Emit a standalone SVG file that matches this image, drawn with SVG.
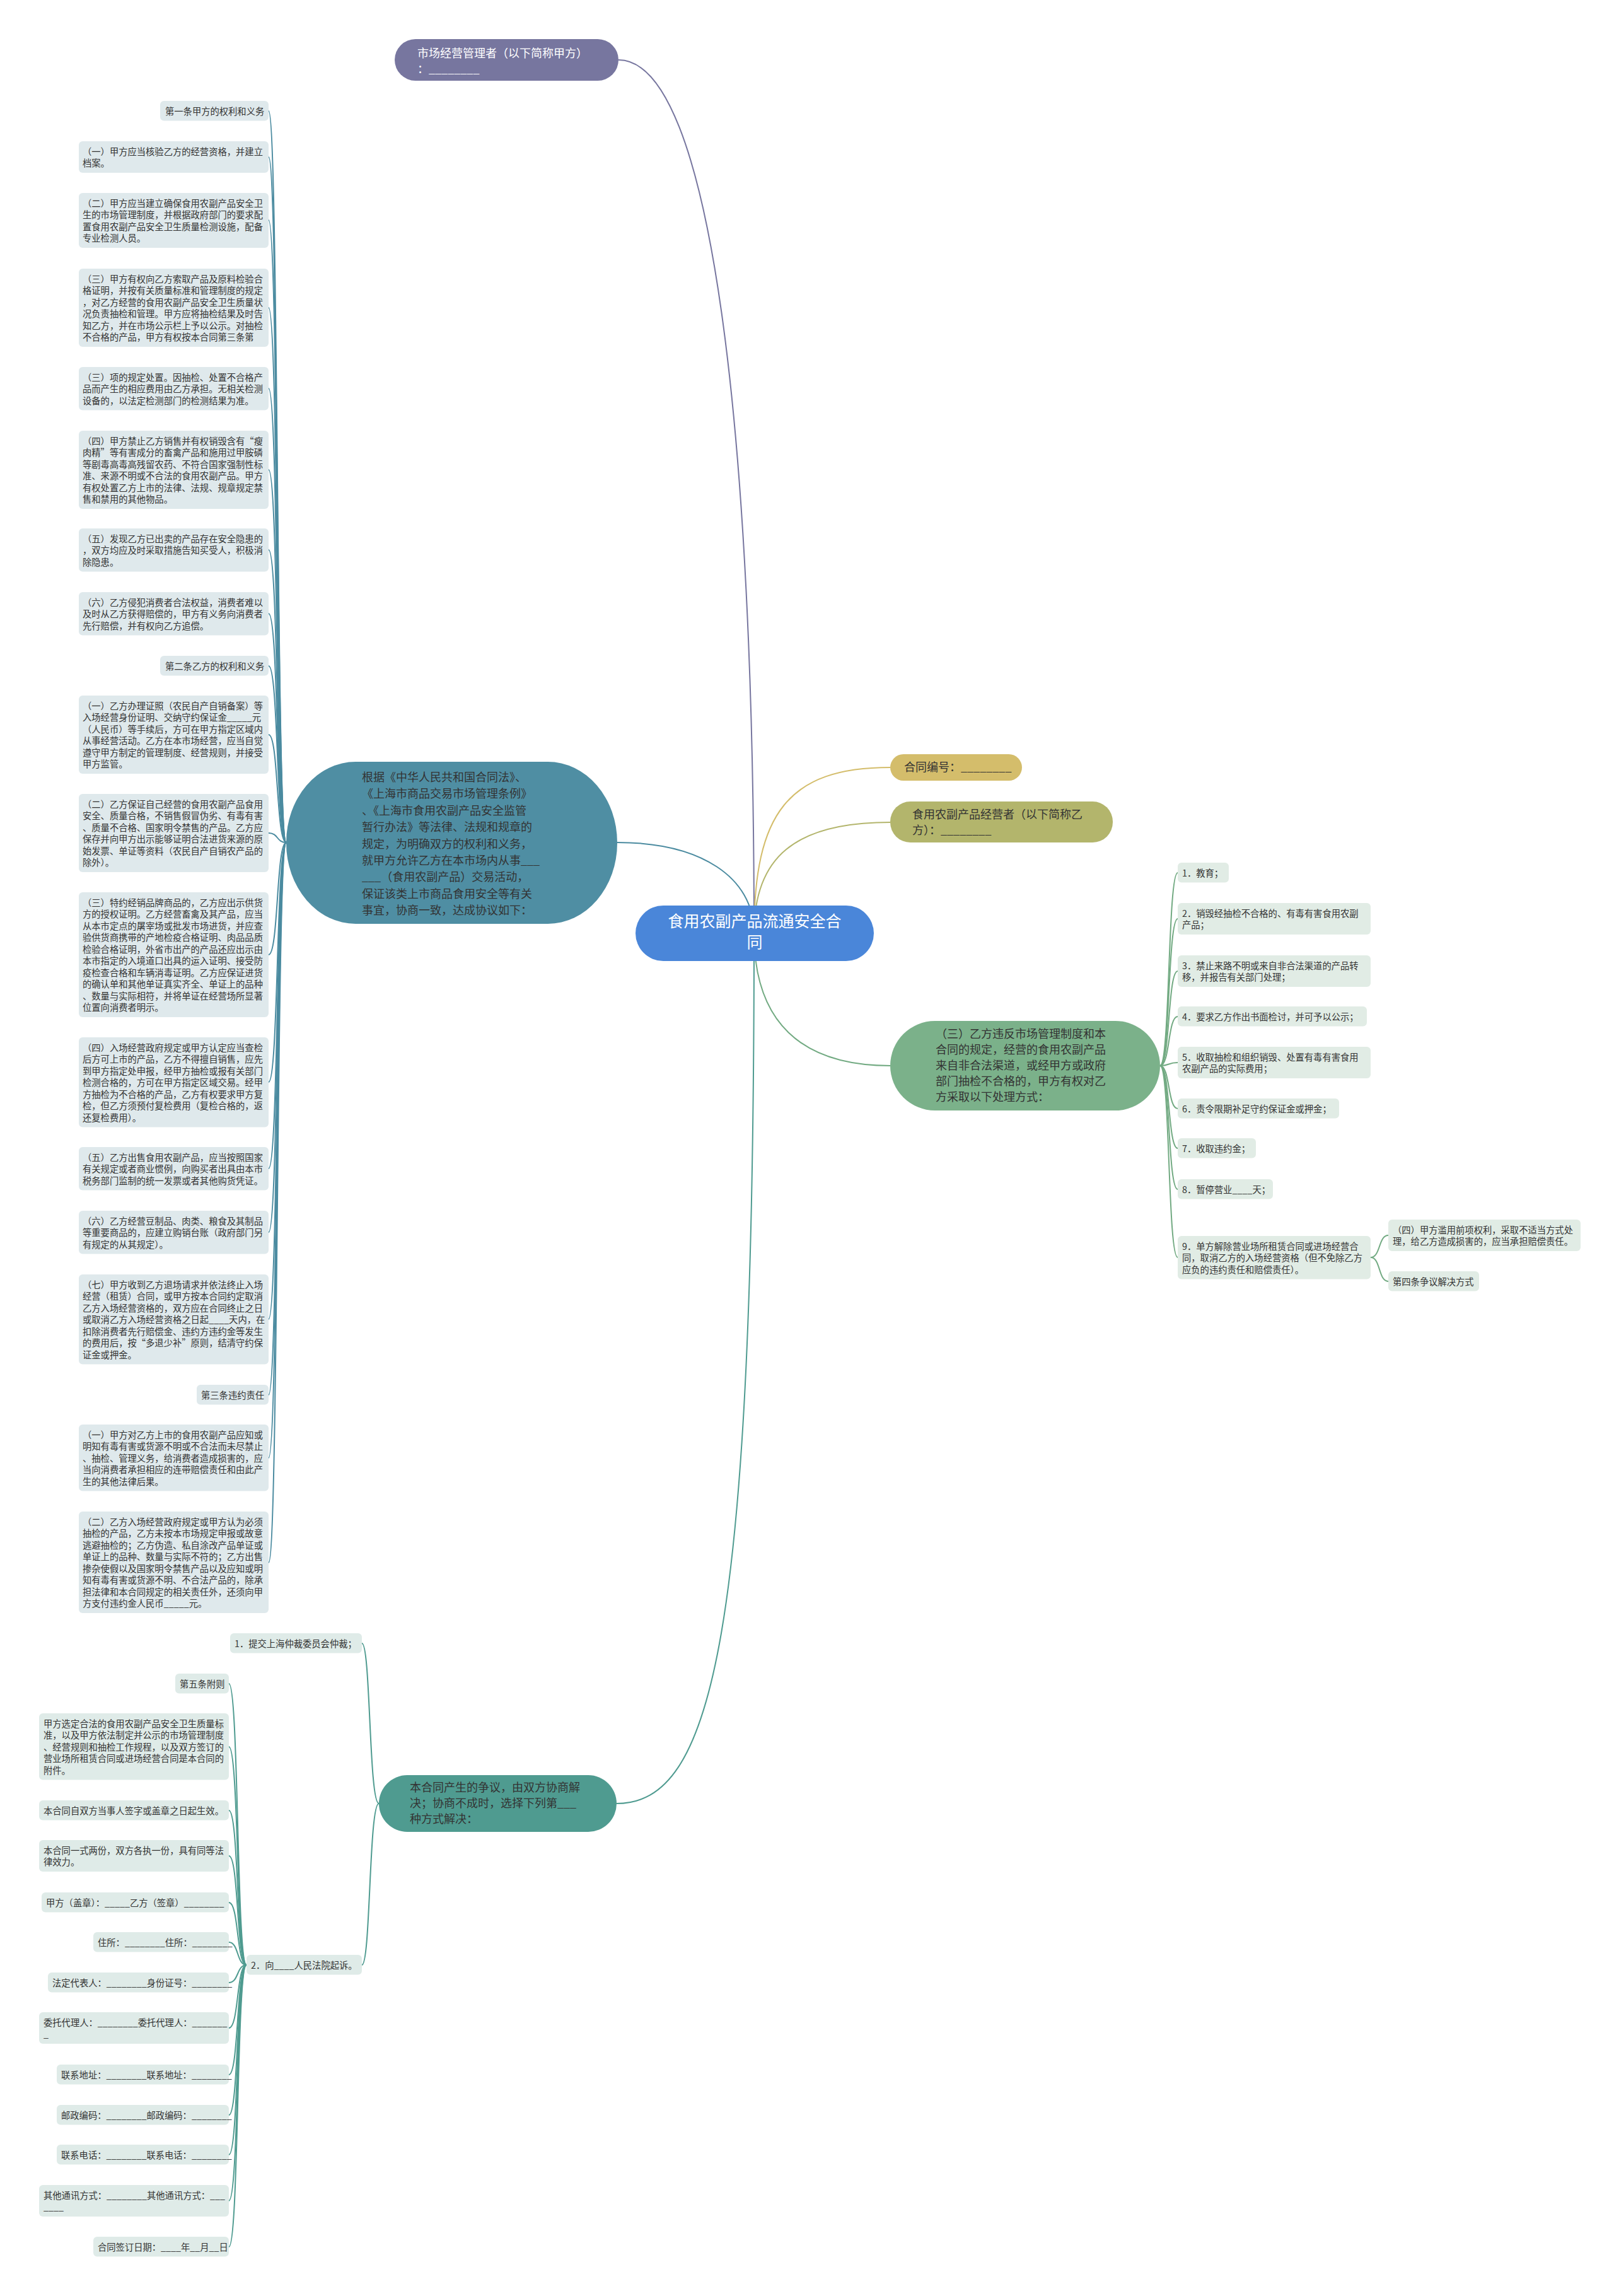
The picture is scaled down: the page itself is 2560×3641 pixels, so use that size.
<svg xmlns="http://www.w3.org/2000/svg" width="2560" height="3641" viewBox="0 0 2560 3641">
<style>
text{font-family:"Noto Sans CJK SC","Noto Sans",sans-serif;fill:#333}
.lf{font-size:14.3px}
.md{font-size:18px}
.wt{fill:#fff}
.rt{font-size:25px;fill:#fff}
.bl{fill:#dfe9ec}
.bg{fill:#e1ece5}
.bb{fill:#dfebe8}
.c{fill:none;stroke-width:2}
.cl{stroke:#4b8ba0}
.cg{stroke:#72aa82}
.cb{stroke:#4f9b90}
</style>
<rect width="2560" height="3641" fill="#fff"/>
<g id="connectors">
<path class="c" stroke="#77769f" d="M1196 1480 C1196 700,1130 95,981 95"/>
<path class="c cl" d="M1196 1480 C1196 1390,1110 1336,979 1336"/>
<path class="c" stroke="#d4bd6b" d="M1196 1480 C1196 1290,1250 1217,1412 1217"/>
<path class="c" stroke="#b3b56c" d="M1196 1480 C1196 1360,1260 1304,1412 1304"/>
<path class="c cg" d="M1196 1480 C1196 1620,1270 1690,1412 1690"/>
<path class="c cb" d="M1196 1480 C1196 2600,1130 2860,978 2860"/>
<path class="c cl" d="M454 1336 C438 1336,442 176,426 176"/>
<path class="c cl" d="M454 1336 C438 1336,442 249,426 249"/>
<path class="c cl" d="M454 1336 C438 1336,442 349,426 349"/>
<path class="c cl" d="M454 1336 C438 1336,442 488,426 488"/>
<path class="c cl" d="M454 1336 C438 1336,442 616,426 616"/>
<path class="c cl" d="M454 1336 C438 1336,442 745,426 745"/>
<path class="c cl" d="M454 1336 C438 1336,442 872,426 872"/>
<path class="c cl" d="M454 1336 C438 1336,442 973,426 973"/>
<path class="c cl" d="M454 1336 C438 1336,442 1056,426 1056"/>
<path class="c cl" d="M454 1336 C438 1336,442 1165,426 1165"/>
<path class="c cl" d="M454 1336 C438 1336,442 1321,426 1321"/>
<path class="c cl" d="M454 1336 C438 1336,442 1514,426 1514"/>
<path class="c cl" d="M454 1336 C438 1336,442 1716,426 1716"/>
<path class="c cl" d="M454 1336 C438 1336,442 1853,426 1853"/>
<path class="c cl" d="M454 1336 C438 1336,442 1954,426 1954"/>
<path class="c cl" d="M454 1336 C438 1336,442 2092,426 2092"/>
<path class="c cl" d="M454 1336 C438 1336,442 2212,426 2212"/>
<path class="c cl" d="M454 1336 C438 1336,442 2312,426 2312"/>
<path class="c cl" d="M454 1336 C438 1336,442 2478,426 2478"/>
<path class="c cg" d="M1840 1690 C1856 1690,1852 1384,1868 1384"/>
<path class="c cg" d="M1840 1690 C1856 1690,1852 1457,1868 1457"/>
<path class="c cg" d="M1840 1690 C1856 1690,1852 1540,1868 1540"/>
<path class="c cg" d="M1840 1690 C1856 1690,1852 1612,1868 1612"/>
<path class="c cg" d="M1840 1690 C1856 1690,1852 1685,1868 1685"/>
<path class="c cg" d="M1840 1690 C1856 1690,1852 1758,1868 1758"/>
<path class="c cg" d="M1840 1690 C1856 1690,1852 1821,1868 1821"/>
<path class="c cg" d="M1840 1690 C1856 1690,1852 1886,1868 1886"/>
<path class="c cg" d="M1840 1690 C1856 1690,1852 1994,1868 1994"/>
<path class="c cg" d="M2174 1994 C2190 1994,2186 1959,2202 1959"/>
<path class="c cg" d="M2174 1994 C2190 1994,2186 2032,2202 2032"/>
<path class="c cb" d="M601 2860 C585 2860,588 2606,574 2606"/>
<path class="c cb" d="M601 2860 C585 2860,588 3116,574 3116"/>
<path class="c cb" d="M391 3116 C375 3116,379 2670,363 2670"/>
<path class="c cb" d="M391 3116 C375 3116,379 2770,363 2770"/>
<path class="c cb" d="M391 3116 C375 3116,379 2871,363 2871"/>
<path class="c cb" d="M391 3116 C375 3116,379 2943,363 2943"/>
<path class="c cb" d="M391 3116 C375 3116,379 3017,363 3017"/>
<path class="c cb" d="M391 3116 C375 3116,379 3080,363 3080"/>
<path class="c cb" d="M391 3116 C375 3116,379 3144,363 3144"/>
<path class="c cb" d="M391 3116 C375 3116,379 3216,363 3216"/>
<path class="c cb" d="M391 3116 C375 3116,379 3290,363 3290"/>
<path class="c cb" d="M391 3116 C375 3116,379 3354,363 3354"/>
<path class="c cb" d="M391 3116 C375 3116,379 3417,363 3417"/>
<path class="c cb" d="M391 3116 C375 3116,379 3490,363 3490"/>
<path class="c cb" d="M391 3116 C375 3116,379 3563,363 3563"/>
</g>

<g id="root"><rect x="1008" y="1436" width="378" height="88" rx="44" fill="#4a86d9"/>
<text class="rt" text-anchor="middle"><tspan x="1197" y="1470">食用农副产品流通安全合</tspan><tspan x="1197" y="1503">同</tspan></text></g>

<g id="n-jiafang"><rect x="626" y="62" width="355" height="66" rx="33" fill="#77769f"/>
<text class="md wt"><tspan x="662" y="91">市场经营管理者（以下简称甲方）</tspan><tspan x="662" y="116">：________</tspan></text></g>

<g id="n-bianhao"><rect x="1412" y="1196" width="209" height="42" rx="21" fill="#d4bd6b"/>
<text class="md" x="1434" y="1223">合同编号：________</text></g>

<g id="n-yifang"><rect x="1412" y="1271" width="353" height="65" rx="32" fill="#b3b56c"/>
<text class="md"><tspan x="1447" y="1298">食用农副产品经营者（以下简称乙</tspan><tspan x="1447" y="1323">方）：________</tspan></text></g>

<g id="n-genju"><rect x="454" y="1208" width="525" height="257" rx="110" ry="128" fill="#4f8ea3"/>
<text class="md"><tspan x="574" y="1239">根据《中华人民共和国合同法》、</tspan><tspan x="574" dy="26.4">《上海市商品交易市场管理条例》</tspan><tspan x="574" dy="26.4">、《上海市食用农副产品安全监管</tspan><tspan x="574" dy="26.4">暂行办法》等法律、法规和规章的</tspan><tspan x="574" dy="26.4">规定，为明确双方的权利和义务，</tspan><tspan x="574" dy="26.4">就甲方允许乙方在本市场内从事___</tspan><tspan x="574" dy="26.4">___（食用农副产品）交易活动，</tspan><tspan x="574" dy="26.4">保证该类上市商品食用安全等有关</tspan><tspan x="574" dy="26.4">事宜，协商一致，达成协议如下：</tspan></text></g>

<g id="n-weifan"><rect x="1412" y="1619" width="428" height="142" rx="71" fill="#7bb18a"/>
<text class="md"><tspan x="1484" y="1646">（三）乙方违反市场管理制度和本</tspan><tspan x="1484" dy="25">合同的规定，经营的食用农副产品</tspan><tspan x="1484" dy="25">来自非合法渠道，或经甲方或政府</tspan><tspan x="1484" dy="25">部门抽检不合格的，甲方有权对乙</tspan><tspan x="1484" dy="25">方采取以下处理方式：</tspan></text></g>

<g id="n-zhengyi"><rect x="601" y="2815" width="377" height="90" rx="45" fill="#4f9b90"/>
<text class="md"><tspan x="650" y="2841">本合同产生的争议，由双方协商解</tspan><tspan x="650" dy="25">决；协商不成时，选择下列第___</tspan><tspan x="650" dy="25">种方式解决：</tspan></text></g>

<g id="l01"><rect class="bl" x="254" y="160" width="172" height="31.5" rx="6"/><text class="lf" x="262" y="181.5">第一条甲方的权利和义务</text></g>
<g id="l02"><rect class="bl" x="125" y="224" width="301" height="50" rx="6"/><text class="lf"><tspan x="131" y="245.5">（一）甲方应当核验乙方的经营资格，并建立</tspan><tspan x="131" dy="18.5">档案。</tspan></text></g>
<g id="l03"><rect class="bl" x="125" y="306" width="301" height="87" rx="6"/><text class="lf"><tspan x="131" y="327.5">（二）甲方应当建立确保食用农副产品安全卫</tspan><tspan x="131" dy="18.5">生的市场管理制度，并根据政府部门的要求配</tspan><tspan x="131" dy="18.5">置食用农副产品安全卫生质量检测设施，配备</tspan><tspan x="131" dy="18.5">专业检测人员。</tspan></text></g>
<g id="l04"><rect class="bl" x="125" y="426" width="301" height="124" rx="6"/><text class="lf"><tspan x="131" y="447.5">（三）甲方有权向乙方索取产品及原料检验合</tspan><tspan x="131" dy="18.5">格证明，并按有关质量标准和管理制度的规定</tspan><tspan x="131" dy="18.5">，对乙方经营的食用农副产品安全卫生质量状</tspan><tspan x="131" dy="18.5">况负责抽检和管理。甲方应将抽检结果及时告</tspan><tspan x="131" dy="18.5">知乙方，并在市场公示栏上予以公示。对抽检</tspan><tspan x="131" dy="18.5">不合格的产品，甲方有权按本合同第三条第</tspan></text></g>
<g id="l05"><rect class="bl" x="125" y="582" width="301" height="68.5" rx="6"/><text class="lf"><tspan x="131" y="603.5">（三）项的规定处置。因抽检、处置不合格产</tspan><tspan x="131" dy="18.5">品而产生的相应费用由乙方承担。无相关检测</tspan><tspan x="131" dy="18.5">设备的，以法定检测部门的检测结果为准。</tspan></text></g>
<g id="l06"><rect class="bl" x="125" y="683" width="301" height="124" rx="6"/><text class="lf"><tspan x="131" y="704.5">（四）甲方禁止乙方销售并有权销毁含有“瘦</tspan><tspan x="131" dy="18.5">肉精”等有害成分的畜禽产品和施用过甲胺磷</tspan><tspan x="131" dy="18.5">等剧毒高毒高残留农药、不符合国家强制性标</tspan><tspan x="131" dy="18.5">准、来源不明或不合法的食用农副产品。甲方</tspan><tspan x="131" dy="18.5">有权处置乙方上市的法律、法规、规章规定禁</tspan><tspan x="131" dy="18.5">售和禁用的其他物品。</tspan></text></g>
<g id="l07"><rect class="bl" x="125" y="838" width="301" height="68.5" rx="6"/><text class="lf"><tspan x="131" y="859.5">（五）发现乙方已出卖的产品存在安全隐患的</tspan><tspan x="131" dy="18.5">，双方均应及时采取措施告知买受人，积极消</tspan><tspan x="131" dy="18.5">除隐患。</tspan></text></g>
<g id="l08"><rect class="bl" x="125" y="939" width="301" height="68.5" rx="6"/><text class="lf"><tspan x="131" y="960.5">（六）乙方侵犯消费者合法权益，消费者难以</tspan><tspan x="131" dy="18.5">及时从乙方获得赔偿的，甲方有义务向消费者</tspan><tspan x="131" dy="18.5">先行赔偿，并有权向乙方追偿。</tspan></text></g>
<g id="l09"><rect class="bl" x="254" y="1040" width="172" height="31.5" rx="6"/><text class="lf" x="262" y="1061.5">第二条乙方的权利和义务</text></g>
<g id="l10"><rect class="bl" x="125" y="1103" width="301" height="124" rx="6"/><text class="lf"><tspan x="131" y="1124.5">（一）乙方办理证照（农民自产自销备案）等</tspan><tspan x="131" dy="18.5">入场经营身份证明、交纳守约保证金_____元</tspan><tspan x="131" dy="18.5">（人民币）等手续后，方可在甲方指定区域内</tspan><tspan x="131" dy="18.5">从事经营活动。乙方在本市场经营，应当自觉</tspan><tspan x="131" dy="18.5">遵守甲方制定的管理制度、经营规则，并接受</tspan><tspan x="131" dy="18.5">甲方监管。</tspan></text></g>
<g id="l11"><rect class="bl" x="125" y="1259" width="301" height="124" rx="6"/><text class="lf"><tspan x="131" y="1280.5">（二）乙方保证自己经营的食用农副产品食用</tspan><tspan x="131" dy="18.5">安全、质量合格，不销售假冒伪劣、有毒有害</tspan><tspan x="131" dy="18.5">、质量不合格、国家明令禁售的产品。乙方应</tspan><tspan x="131" dy="18.5">保存并向甲方出示能够证明合法进货来源的原</tspan><tspan x="131" dy="18.5">始发票、单证等资料（农民自产自销农产品的</tspan><tspan x="131" dy="18.5">除外）。</tspan></text></g>
<g id="l12"><rect class="bl" x="125" y="1415" width="301" height="198" rx="6"/><text class="lf"><tspan x="131" y="1436.5">（三）特约经销品牌商品的，乙方应出示供货</tspan><tspan x="131" dy="18.5">方的授权证明。乙方经营畜禽及其产品，应当</tspan><tspan x="131" dy="18.5">从本市定点的屠宰场或批发市场进货，并应查</tspan><tspan x="131" dy="18.5">验供货商携带的产地检疫合格证明、肉品品质</tspan><tspan x="131" dy="18.5">检验合格证明，外省市出产的产品还应出示由</tspan><tspan x="131" dy="18.5">本市指定的入境道口出具的运入证明、接受防</tspan><tspan x="131" dy="18.5">疫检查合格和车辆消毒证明。乙方应保证进货</tspan><tspan x="131" dy="18.5">的确认单和其他单证真实齐全、单证上的品种</tspan><tspan x="131" dy="18.5">、数量与实际相符，并将单证在经营场所显著</tspan><tspan x="131" dy="18.5">位置向消费者明示。</tspan></text></g>
<g id="l13"><rect class="bl" x="125" y="1645" width="301" height="142.5" rx="6"/><text class="lf"><tspan x="131" y="1666.5">（四）入场经营政府规定或甲方认定应当查检</tspan><tspan x="131" dy="18.5">后方可上市的产品，乙方不得擅自销售，应先</tspan><tspan x="131" dy="18.5">到甲方指定处申报，经甲方抽检或报有关部门</tspan><tspan x="131" dy="18.5">检测合格的，方可在甲方指定区域交易。经甲</tspan><tspan x="131" dy="18.5">方抽检为不合格的产品，乙方有权要求甲方复</tspan><tspan x="131" dy="18.5">检，但乙方须预付复检费用（复检合格的，返</tspan><tspan x="131" dy="18.5">还复检费用）。</tspan></text></g>
<g id="l14"><rect class="bl" x="125" y="1819" width="301" height="68.5" rx="6"/><text class="lf"><tspan x="131" y="1840.5">（五）乙方出售食用农副产品，应当按照国家</tspan><tspan x="131" dy="18.5">有关规定或者商业惯例，向购买者出具由本市</tspan><tspan x="131" dy="18.5">税务部门监制的统一发票或者其他购货凭证。</tspan></text></g>
<g id="l15"><rect class="bl" x="125" y="1920" width="301" height="68.5" rx="6"/><text class="lf"><tspan x="131" y="1941.5">（六）乙方经营豆制品、肉类、粮食及其制品</tspan><tspan x="131" dy="18.5">等重要商品的，应建立购销台账（政府部门另</tspan><tspan x="131" dy="18.5">有规定的从其规定）。</tspan></text></g>
<g id="l16"><rect class="bl" x="125" y="2021" width="301" height="142.5" rx="6"/><text class="lf"><tspan x="131" y="2042.5">（七）甲方收到乙方退场请求并依法终止入场</tspan><tspan x="131" dy="18.5">经营（租赁）合同，或甲方按本合同约定取消</tspan><tspan x="131" dy="18.5">乙方入场经营资格的，双方应在合同终止之日</tspan><tspan x="131" dy="18.5">或取消乙方入场经营资格之日起____天内，在</tspan><tspan x="131" dy="18.5">扣除消费者先行赔偿金、违约方违约金等发生</tspan><tspan x="131" dy="18.5">的费用后，按“多退少补”原则，结清守约保</tspan><tspan x="131" dy="18.5">证金或押金。</tspan></text></g>
<g id="l17"><rect class="bl" x="312" y="2196" width="114" height="31.5" rx="6"/><text class="lf" x="319" y="2217.5">第三条违约责任</text></g>
<g id="l18"><rect class="bl" x="125" y="2259" width="301" height="105.5" rx="6"/><text class="lf"><tspan x="131" y="2280.5">（一）甲方对乙方上市的食用农副产品应知或</tspan><tspan x="131" dy="18.5">明知有毒有害或货源不明或不合法而未尽禁止</tspan><tspan x="131" dy="18.5">、抽检、管理义务，给消费者造成损害的，应</tspan><tspan x="131" dy="18.5">当向消费者承担相应的连带赔偿责任和由此产</tspan><tspan x="131" dy="18.5">生的其他法律后果。</tspan></text></g>
<g id="l19"><rect class="bl" x="125" y="2397" width="301" height="161" rx="6"/><text class="lf"><tspan x="131" y="2418.5">（二）乙方入场经营政府规定或甲方认为必须</tspan><tspan x="131" dy="18.5">抽检的产品，乙方未按本市场规定申报或故意</tspan><tspan x="131" dy="18.5">逃避抽检的；乙方伪造、私自涂改产品单证或</tspan><tspan x="131" dy="18.5">单证上的品种、数量与实际不符的；乙方出售</tspan><tspan x="131" dy="18.5">掺杂使假以及国家明令禁售产品以及应知或明</tspan><tspan x="131" dy="18.5">知有毒有害或货源不明、不合法产品的，除承</tspan><tspan x="131" dy="18.5">担法律和本合同规定的相关责任外，还须向甲</tspan><tspan x="131" dy="18.5">方支付违约金人民币_____元。</tspan></text></g>

<g id="r01"><rect class="bg" x="1868" y="1368" width="81" height="31.5" rx="6"/><text class="lf" x="1875" y="1389.5">1．教育；</text></g>
<g id="r02"><rect class="bg" x="1868" y="1432" width="306" height="50" rx="6"/><text class="lf"><tspan x="1875" y="1453.5">2．销毁经抽检不合格的、有毒有害食用农副</tspan><tspan x="1875" dy="18.5">产品；</tspan></text></g>
<g id="r03"><rect class="bg" x="1868" y="1515" width="306" height="50" rx="6"/><text class="lf"><tspan x="1875" y="1536.5">3．禁止来路不明或来自非合法渠道的产品转</tspan><tspan x="1875" dy="18.5">移，并报告有关部门处理；</tspan></text></g>
<g id="r04"><rect class="bg" x="1868" y="1596" width="300" height="31.5" rx="6"/><text class="lf" x="1875" y="1617.5">4．要求乙方作出书面检讨，并可予以公示；</text></g>
<g id="r05"><rect class="bg" x="1868" y="1660" width="306" height="50" rx="6"/><text class="lf"><tspan x="1875" y="1681.5">5．收取抽检和组织销毁、处置有毒有害食用</tspan><tspan x="1875" dy="18.5">农副产品的实际费用；</tspan></text></g>
<g id="r06"><rect class="bg" x="1868" y="1742" width="256" height="31.5" rx="6"/><text class="lf" x="1875" y="1763.5">6．责令限期补足守约保证金或押金；</text></g>
<g id="r07"><rect class="bg" x="1868" y="1805" width="124" height="31.5" rx="6"/><text class="lf" x="1875" y="1826.5">7．收取违约金；</text></g>
<g id="r08"><rect class="bg" x="1868" y="1870" width="151" height="31.5" rx="6"/><text class="lf" x="1875" y="1891.5">8．暂停营业____天；</text></g>
<g id="r09"><rect class="bg" x="1868" y="1960" width="306" height="68.5" rx="6"/><text class="lf"><tspan x="1875" y="1981.5">9．单方解除营业场所租赁合同或进场经营合</tspan><tspan x="1875" dy="18.5">同，取消乙方的入场经营资格（但不免除乙方</tspan><tspan x="1875" dy="18.5">应负的违约责任和赔偿责任）。</tspan></text></g>
<g id="r10"><rect class="bg" x="2202" y="1934" width="305" height="50" rx="6"/><text class="lf"><tspan x="2209" y="1955.5">（四）甲方滥用前项权利，采取不适当方式处</tspan><tspan x="2209" dy="18.5">理，给乙方造成损害的，应当承担赔偿责任。</tspan></text></g>
<g id="r11"><rect class="bg" x="2202" y="2016" width="144" height="31.5" rx="6"/><text class="lf" x="2209" y="2037.5">第四条争议解决方式</text></g>

<g id="b01"><rect class="bb" x="365" y="2590" width="209" height="31.5" rx="6"/><text class="lf" x="372" y="2611.5">1．提交上海仲裁委员会仲裁；</text></g>
<g id="b02"><rect class="bb" x="391" y="3100" width="183" height="31.5" rx="6"/><text class="lf" x="398" y="3121.5">2．向____人民法院起诉。</text></g>
<g id="b03"><rect class="bb" x="278" y="2654" width="85" height="31.5" rx="6"/><text class="lf" x="285" y="2675.5">第五条附则</text></g>
<g id="b04"><rect class="bb" x="62" y="2717" width="301" height="105.5" rx="6"/><text class="lf"><tspan x="69" y="2738.5">甲方选定合法的食用农副产品安全卫生质量标</tspan><tspan x="69" dy="18.5">准，以及甲方依法制定并公示的市场管理制度</tspan><tspan x="69" dy="18.5">、经营规则和抽检工作规程，以及双方签订的</tspan><tspan x="69" dy="18.5">营业场所租赁合同或进场经营合同是本合同的</tspan><tspan x="69" dy="18.5">附件。</tspan></text></g>
<g id="b05"><rect class="bb" x="62" y="2855" width="301" height="31.5" rx="6"/><text class="lf" x="69" y="2876.5">本合同自双方当事人签字或盖章之日起生效。</text></g>
<g id="b06"><rect class="bb" x="62" y="2918" width="301" height="50" rx="6"/><text class="lf"><tspan x="69" y="2939.5">本合同一式两份，双方各执一份，具有同等法</tspan><tspan x="69" dy="18.5">律效力。</tspan></text></g>
<g id="b07"><rect class="bb" x="66" y="3001" width="297" height="31.5" rx="6"/><text class="lf" x="73" y="3022.5">甲方（盖章）：_____乙方（签章）________</text></g>
<g id="b08"><rect class="bb" x="148" y="3064" width="215" height="31.5" rx="6"/><text class="lf" x="155" y="3085.5">住所：________住所：________</text></g>
<g id="b09"><rect class="bb" x="76" y="3128" width="287" height="31.5" rx="6"/><text class="lf" x="83" y="3149.5">法定代表人：________身份证号：________</text></g>
<g id="b10"><rect class="bb" x="62" y="3191" width="301" height="50" rx="6"/><text class="lf"><tspan x="69" y="3212.5">委托代理人：________委托代理人：_______</tspan><tspan x="69" dy="18.5">_</tspan></text></g>
<g id="b11"><rect class="bb" x="90" y="3274" width="273" height="31.5" rx="6"/><text class="lf" x="97" y="3295.5">联系地址：________联系地址：________</text></g>
<g id="b12"><rect class="bb" x="90" y="3338" width="273" height="31.5" rx="6"/><text class="lf" x="97" y="3359.5">邮政编码：________邮政编码：________</text></g>
<g id="b13"><rect class="bb" x="90" y="3401" width="273" height="31.5" rx="6"/><text class="lf" x="97" y="3422.5">联系电话：________联系电话：________</text></g>
<g id="b14"><rect class="bb" x="62" y="3465" width="301" height="50" rx="6"/><text class="lf"><tspan x="69" y="3486.5">其他通讯方式：________其他通讯方式：___</tspan><tspan x="69" dy="18.5">____</tspan></text></g>
<g id="b15"><rect class="bb" x="148" y="3547" width="215" height="31.5" rx="6"/><text class="lf" x="155" y="3568.5">合同签订日期：____年__月__日</text></g>
</svg>
